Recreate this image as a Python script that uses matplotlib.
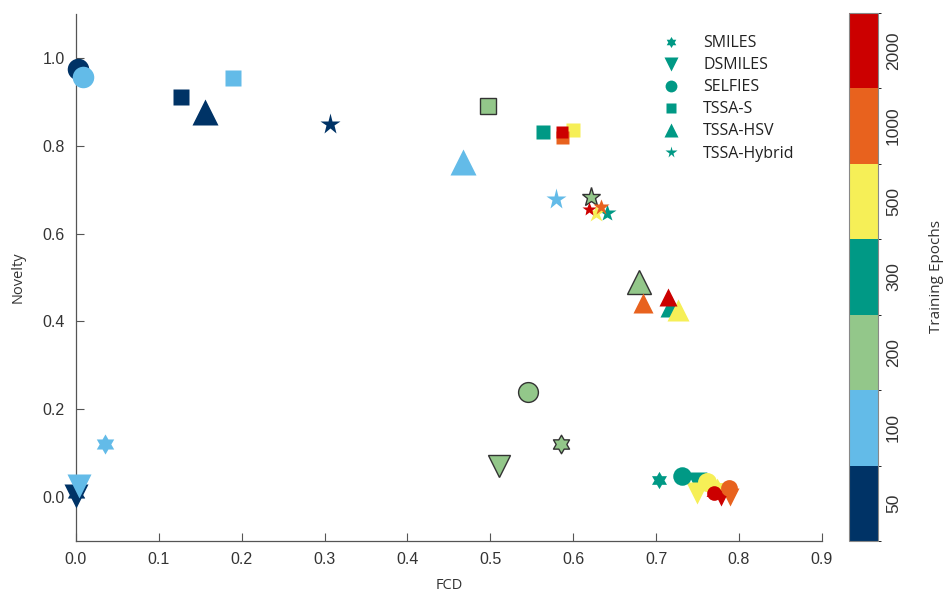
import numpy as np
import matplotlib
matplotlib.use("Agg")
import matplotlib.pyplot as plt
from matplotlib.colors import ListedColormap, BoundaryNorm
from matplotlib.cm import ScalarMappable
from matplotlib.lines import Line2D
from matplotlib.path import Path

# Training epochs and their colours
epochs = [50, 100, 200, 300, 500, 1000, 2000]
epoch_colors = ["#003366", "#63bbe8", "#93c78a", "#009985",
                "#f6ef57", "#e8621e", "#cc0000"]

# FCD / novelty per representation, ordered as `epochs`
smiles_fcd = [0.000, 0.035, 0.585, 0.704, 0.774, 0.787, 0.768]
smiles_nov = [0.010, 0.120, 0.121, 0.038, 0.023, 0.015, 0.009]

dsmiles_fcd = [0.000, 0.004, 0.511, 0.749, 0.750, 0.789, 0.779]
dsmiles_nov = [0.003, 0.026, 0.070, 0.034, 0.010, 0.000, -0.002]

selfies_fcd = [0.002, 0.009, 0.545, 0.731, 0.762, 0.788, 0.770]
selfies_nov = [0.974, 0.957, 0.239, 0.047, 0.034, 0.020, 0.010]

tssa_s_fcd = [0.127, 0.190, 0.497, 0.563, 0.600, 0.587, 0.587]
tssa_s_nov = [0.911, 0.955, 0.891, 0.832, 0.835, 0.820, 0.831]

tssa_hsv_fcd = [0.156, 0.467, 0.680, 0.718, 0.727, 0.684, 0.715]
tssa_hsv_nov = [0.877, 0.764, 0.489, 0.436, 0.426, 0.443, 0.455]

hybrid_fcd = [0.306, 0.579, 0.622, 0.641, 0.628, 0.633, 0.619]
hybrid_nov = [0.850, 0.680, 0.684, 0.646, 0.648, 0.660, 0.656]

method_names = ["SMILES", "DSMILES", "SELFIES", "TSSA-S", "TSSA-HSV", "TSSA-Hybrid"]


def hexagram():
    # six-pointed star, point up
    ang = np.pi / 2 + np.arange(12) * np.pi / 6
    rad = np.where(np.arange(12) % 2 == 0, 1.0, 1 / np.sqrt(3))
    verts = np.column_stack([rad * np.cos(ang), rad * np.sin(ang)])
    verts = np.vstack([verts, verts[:1]])
    codes = [Path.MOVETO] + [Path.LINETO] * 11 + [Path.CLOSEPOLY]
    return Path(verts, codes)


HEX = hexagram()
markers = [HEX, "v", "o", "s", "^", "*"]
base_size = [14.5, 17.5, 15.5, 12.0, 18.5, 15.5]
epoch_scale = [1.0, 1.0, 0.92, 0.86, 0.88, 0.78, 0.68]

series = [
    (smiles_fcd, smiles_nov),
    (dsmiles_fcd, dsmiles_nov),
    (selfies_fcd, selfies_nov),
    (tssa_s_fcd, tssa_s_nov),
    (tssa_hsv_fcd, tssa_hsv_nov),
    (hybrid_fcd, hybrid_nov),
]

plt.rcParams['font.family'] = ['Liberation Sans', 'DejaVu Sans']
text_col = "#333333"
label_font = ["Open Sans", "DejaVu Sans"]

fig = plt.figure(figsize=(9.44, 5.94), dpi=100)
ax = fig.add_axes([0.0805, 0.0892, 0.790, 0.887])

for m, (xs, ys) in enumerate(series):
    for k in range(len(epochs)):
        edge = "#333333" if epochs[k] == 200 else "none"
        ax.plot(xs[k], ys[k], linestyle="none", marker=markers[m],
                markersize=base_size[m] * epoch_scale[k],
                markerfacecolor=epoch_colors[k], markeredgecolor=edge,
                markeredgewidth=1.0, clip_on=False, zorder=3)

ax.set_xlim(0, 0.9)
ax.set_ylim(-0.1, 1.1)
ax.set_xticks(np.arange(0, 0.91, 0.1))
ax.set_yticks(np.arange(0, 1.01, 0.2))
ax.xaxis.set_major_formatter(matplotlib.ticker.FormatStrFormatter("%.1f"))
ax.yaxis.set_major_formatter(matplotlib.ticker.FormatStrFormatter("%.1f"))
ax.tick_params(direction="in", length=6, width=0.8, colors="#555555",
               labelcolor=text_col, labelsize=11.5, pad=8)
for side in ("top", "right"):
    ax.spines[side].set_visible(False)
for side in ("left", "bottom"):
    ax.spines[side].set_color("#555555")
    ax.spines[side].set_linewidth(0.9)

ax.set_xlabel("FCD", fontsize=10.5, color=text_col, family=label_font, labelpad=8)
ax.set_ylabel("Novelty", fontsize=10.5, color=text_col, family=label_font, labelpad=12)

# Legend: shapes only, in a neutral teal
handles = [Line2D([], [], linestyle="none", marker=mk, markersize=ms * 0.55,
                  markerfacecolor="#009985", markeredgecolor="none")
           for mk, ms in zip(markers, base_size)]
leg = ax.legend(handles, method_names, loc="upper left",
                bbox_to_anchor=(0.7855, 0.960), frameon=False,
                borderpad=0, borderaxespad=0,
                prop={"family": label_font, "size": 11.5},
                handlelength=1.2, handletextpad=1.4, labelspacing=0.38)
for t in leg.get_texts():
    t.set_color("#222222")

# Discrete colour bar for epochs
cmap = ListedColormap(epoch_colors)
norm = BoundaryNorm(np.arange(len(epochs) + 1), cmap.N)
cax = fig.add_axes([0.899, 0.0892, 0.0307, 0.889])
cb = fig.colorbar(ScalarMappable(norm=norm, cmap=cmap), cax=cax)
cb.set_ticks(np.arange(len(epochs)) + 0.5)
cb.set_ticklabels([str(e) for e in epochs])
cb.ax.tick_params(length=0, labelsize=12.5, labelcolor=text_col, pad=6)
for lab in cb.ax.get_yticklabels():
    lab.set_rotation(90)
    lab.set_va("center")
cb.outline.set_edgecolor("#888888")
cb.outline.set_linewidth(0.8)
cb.set_label("Training Epochs", fontsize=11, color=text_col,
             family=label_font, labelpad=20)

fig.savefig("out.png", dpi=100)
